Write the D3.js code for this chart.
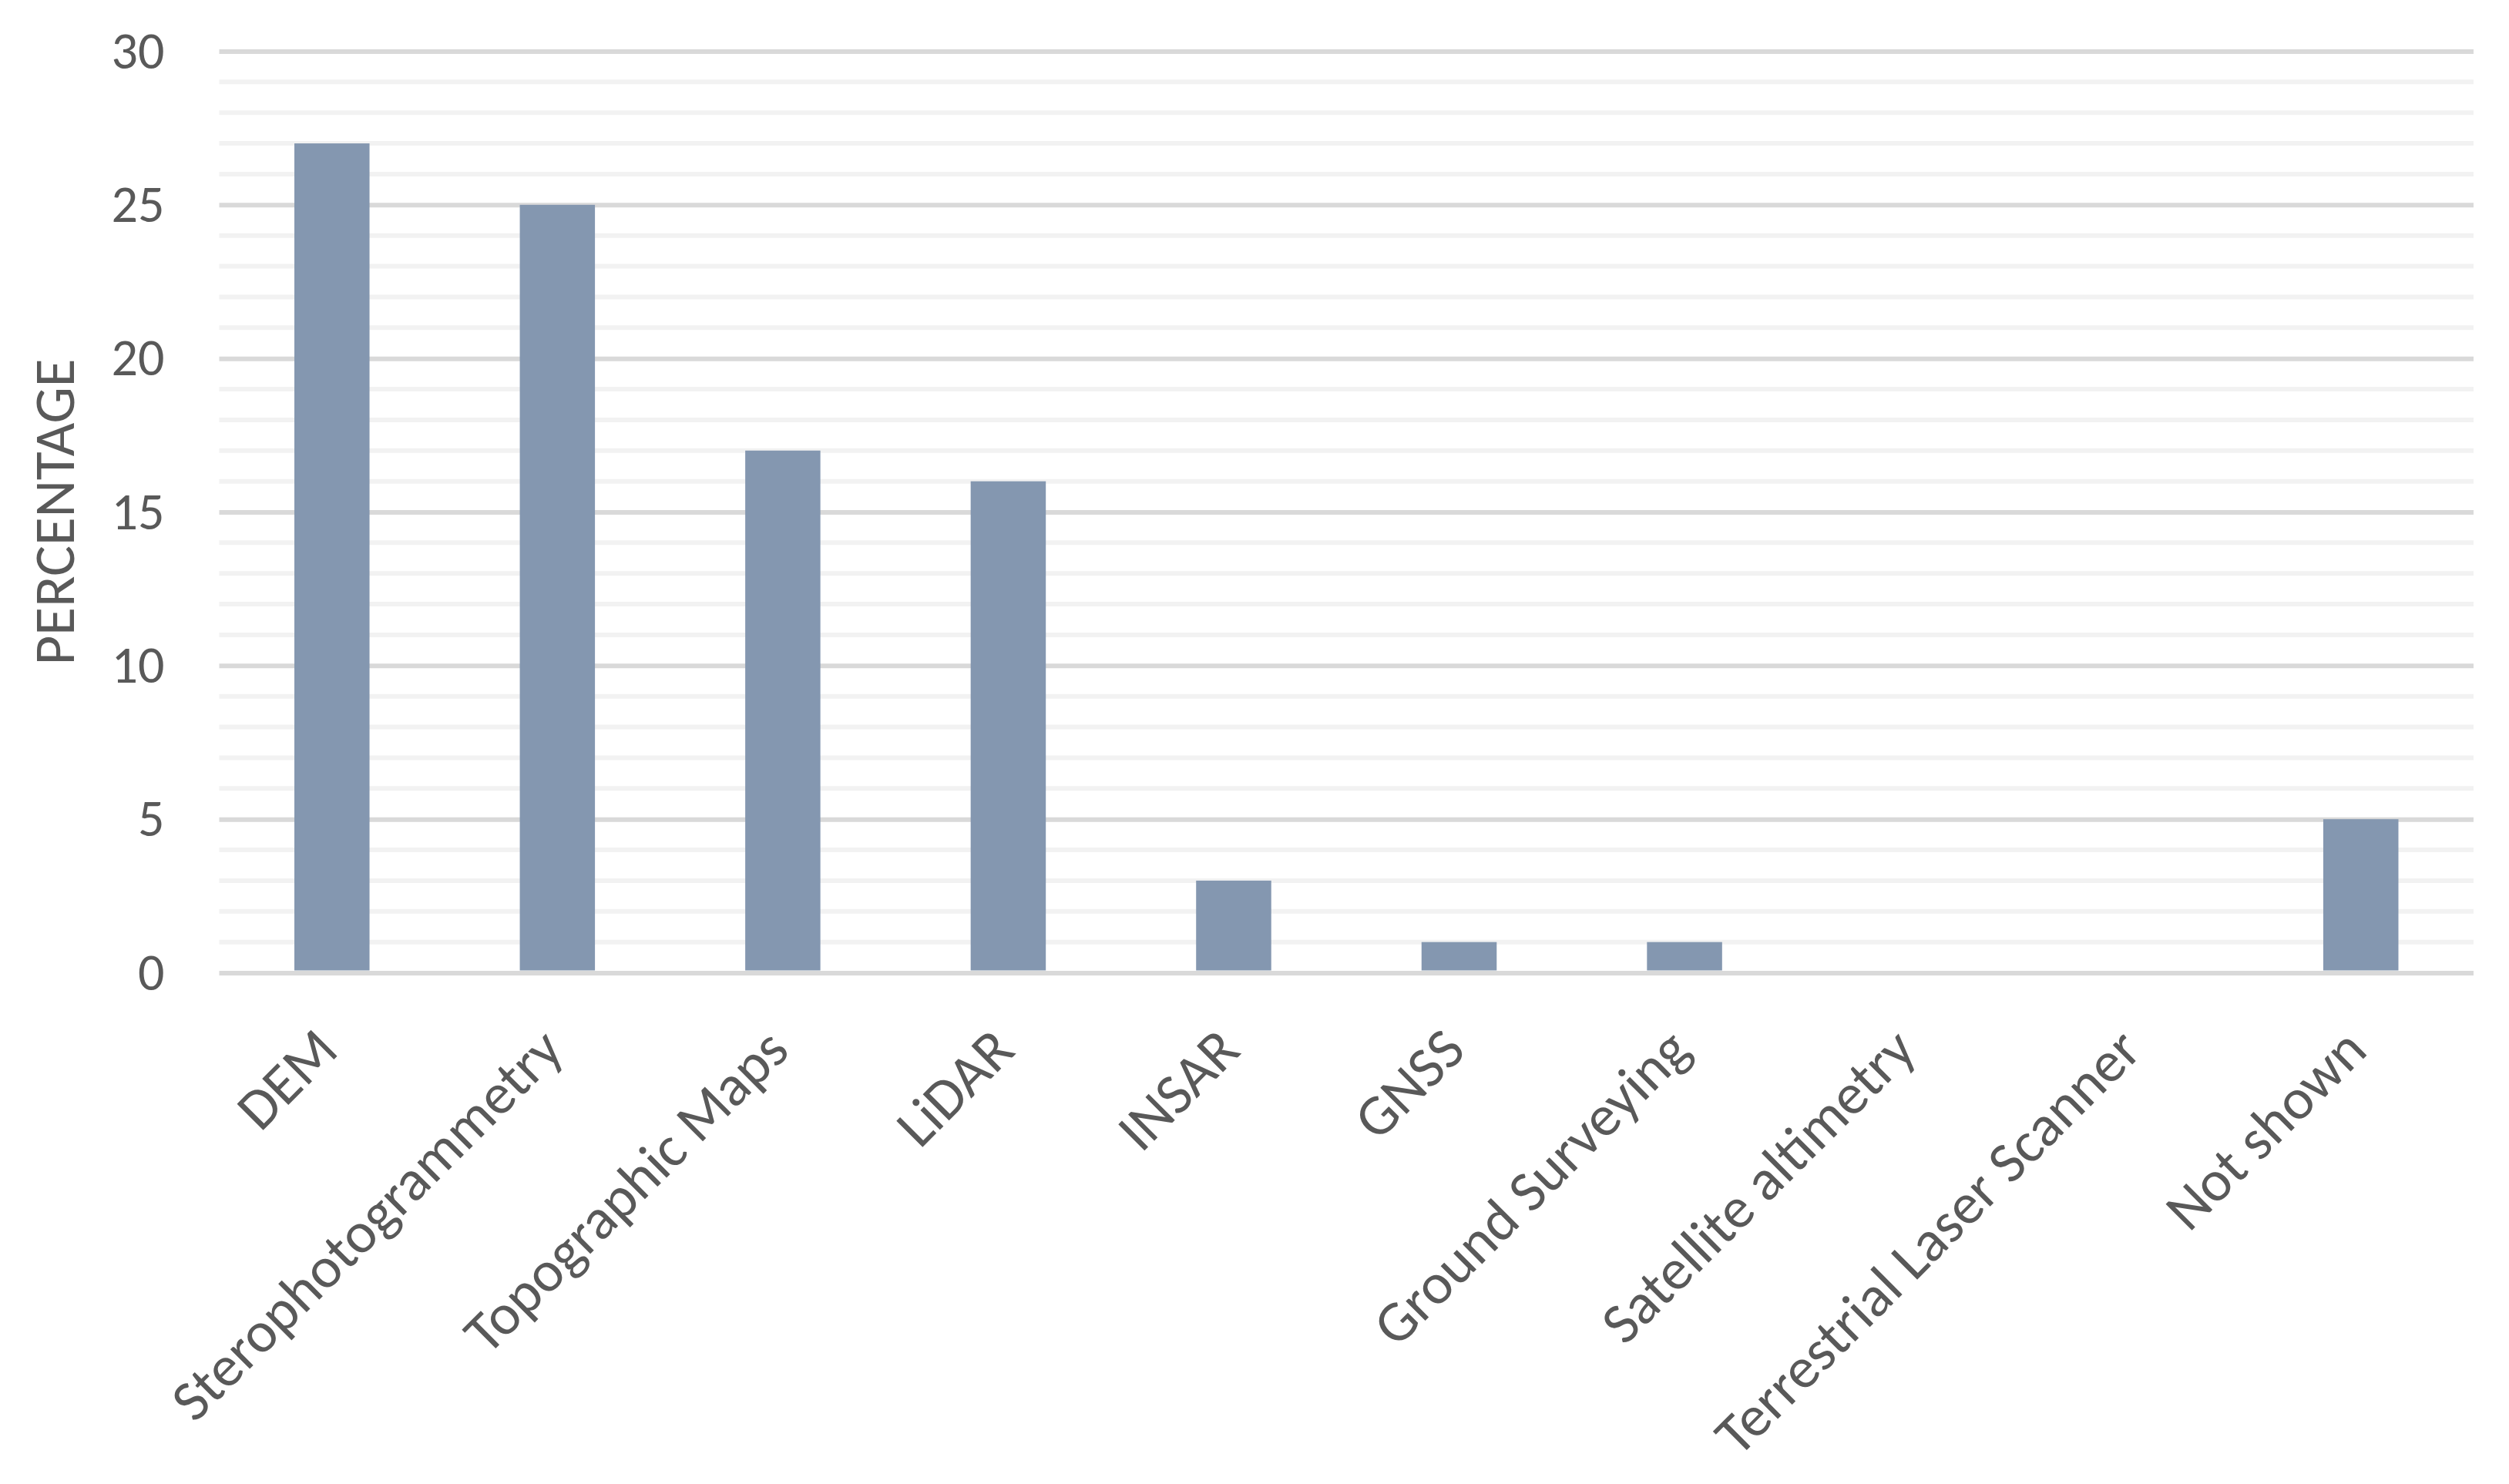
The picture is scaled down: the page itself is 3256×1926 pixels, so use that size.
<!DOCTYPE html>
<html lang="en">
<head>
  <meta charset="UTF-8">
  <title>Percentage by data source</title>
  <script src="https://d3js.org/d3.v7.min.js"></script>
  <style>
    body {
      margin: 0;
      background: #fff;
    }
    text {
      font-family: Carlito, Calibri, Lato, sans-serif;
      fill: #595959;
    }
    .bar {
      fill: #8497b0;
    }
  </style>
</head>
<body>
  <svg width="3256" height="1926"></svg>

  <script>
    const categories = ['DEM', 'Sterophotogrammetry', 'Topographic Maps', 'LiDAR', 'INSAR',
      'GNSS', 'Ground Surveying', 'Satellite altimetry', 'Terrestrial Laser Scanner', 'Not shown'];
    const values = [27, 25, 17, 16, 3, 1, 1, 0, 0, 5];
    const yTicks = [0, 5, 10, 15, 20, 25, 30];
    const yTitle = 'PERCENTAGE';

    const svg = d3.select('svg');
    const margin = { top: 66.5, right: 46, bottom: 663.5, left: 284.5 };
    const width = +svg.attr('width') - margin.left - margin.right;
    const height = +svg.attr('height') - margin.top - margin.bottom;

    const chart = svg.append('g')
      .attr('transform', `translate(${margin.left},${margin.top})`);

    const x = d3.scaleBand().domain(categories).range([0, width]).paddingInner(0).paddingOuter(0);
    const y = d3.scaleLinear().domain([0, 30]).range([height, 0]);

    // minor gridlines every 1
    chart.append('g')
      .selectAll('line')
      .data(d3.range(0, 31).filter(v => v % 5 !== 0))
      .join('line')
      .attr('x1', 0).attr('x2', width)
      .attr('y1', d => y(d)).attr('y2', d => y(d))
      .attr('stroke', '#f2f2f2')
      .attr('stroke-width', 6);

    // major gridlines
    chart.append('g')
      .call(d3.axisLeft(y).tickValues(yTicks).tickSize(-width).tickFormat(''))
      .call(g => g.select('.domain').remove())
      .call(g => g.selectAll('line').attr('stroke', '#d9d9d9').attr('stroke-width', 6));

    chart.selectAll('.bar')
      .data(values)
      .join('rect')
      .attr('class', 'bar')
      .attr('x', (d, i) => x(categories[i]) + x.bandwidth() / 3)
      .attr('width', x.bandwidth() / 3)
      .attr('y', d => y(d))
      .attr('height', d => height - y(d) - 3);

    // y tick labels
    chart.append('g')
      .call(d3.axisLeft(y).tickValues(yTicks).tickSize(0).tickPadding(71))
      .call(g => g.select('.domain').remove())
      .call(g => g.selectAll('text').attr('font-size', 68).style('font-family', null).attr('fill', '#595959'));

    // x labels, rotated 45 degrees
    chart.append('g')
      .attr('transform', `translate(0,${height})`)
      .call(d3.axisBottom(x).tickSize(0).tickPadding(0))
      .call(g => g.select('.domain').remove())
      .call(g => g.selectAll('text')
        .attr('font-size', 75)
        .attr('fill', '#595959')
        .style('font-family', null)
        .attr('text-anchor', 'end')
        .attr('y', 0)
        .attr('dy', 0)
        .attr('transform', 'translate(11,104) rotate(-45)'));

    svg.append('text')
      .attr('transform', `translate(96,${margin.top + height / 2}) rotate(-90)`)
      .attr('text-anchor', 'middle')
      .attr('font-size', 75)
      .text(yTitle);
  </script>
</body>
</html>
